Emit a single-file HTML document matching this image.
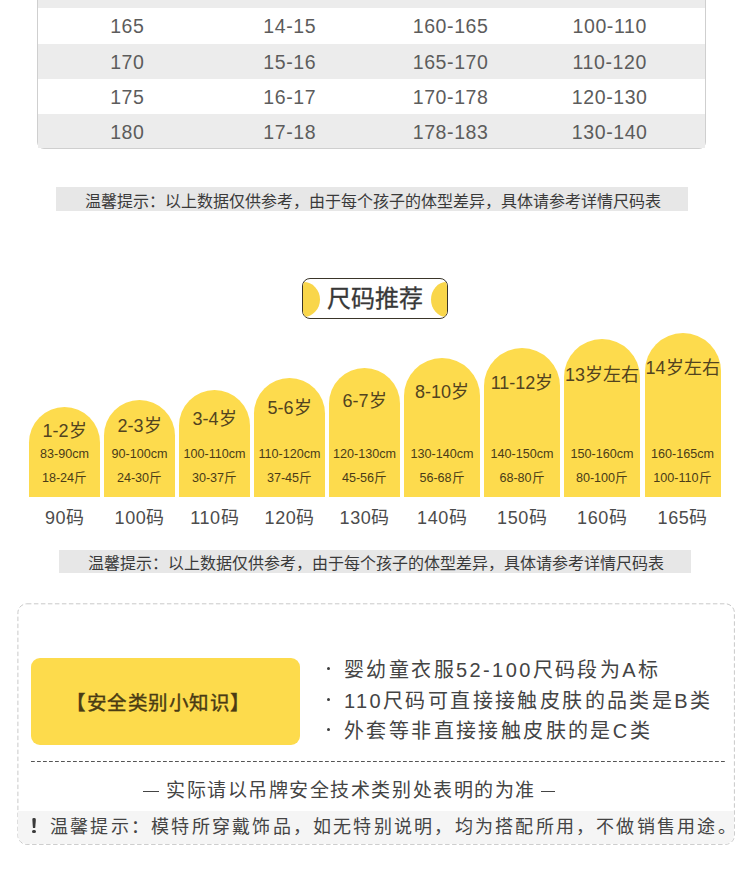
<!DOCTYPE html>
<html lang="zh-CN">
<head>
<meta charset="utf-8">
<style>
*{margin:0;padding:0;box-sizing:border-box;}
html,body{width:750px;height:883px;overflow:hidden;background:#fff;}
body{position:relative;font-family:"Liberation Sans",sans-serif;color:#4a4a4a;}
.tblbox{position:absolute;left:37px;top:-20px;width:669px;height:168.5px;border:1px solid #cfcfcf;border-radius:0 0 7px 7px;overflow:hidden;background:#fff;}
.grow{position:absolute;left:38px;width:667px;background:#ececec;}
.cell{position:absolute;width:160px;height:35px;line-height:36.4px;font-size:19.5px;letter-spacing:0.6px;text-indent:0.6px;color:#5c5c5c;text-align:center;white-space:nowrap;}
.tip{position:absolute;background:#e7e7e7;width:632px;font-size:16px;color:#3a3a3a;white-space:nowrap;}
.badge{position:absolute;left:302px;top:278px;width:146px;height:41px;border:1.3px solid #3a3529;border-radius:8px;overflow:hidden;background:#fff;}
.badge .l,.badge .r{position:absolute;top:2.5px;height:35px;border-radius:50%;background:#f9d64a;}
.badge .l{left:-16px;width:33px;}
.badge .r{right:-15px;width:31px;}
.badge .t{position:absolute;left:0;top:1px;width:100%;height:38.4px;line-height:38.4px;text-align:center;font-size:24px;color:#383838;-webkit-text-stroke:0.3px #383838;}
.bar{position:absolute;background:#fddb4d;}
.age{position:absolute;font-size:18px;line-height:22px;height:22px;text-align:center;color:#524320;white-space:nowrap;}
.cm,.kg{position:absolute;font-size:12.6px;line-height:14px;text-align:center;color:#4a3b18;white-space:nowrap;}
.cm{top:447px;}
.kg{top:470.5px;}
.sz{position:absolute;top:507px;font-size:18px;letter-spacing:0.6px;text-indent:0.6px;line-height:22px;color:#4c4c4c;text-align:center;white-space:nowrap;}
.card{position:absolute;left:17px;top:603px;width:718px;height:242px;border:1px dashed #c8c8c8;border-radius:9px;}
.band{position:absolute;left:18px;top:810.5px;width:716px;height:33.5px;background:#f5f5f5;border-radius:0 0 9px 9px;}
.ybox{position:absolute;left:31px;top:658px;width:269px;height:87px;background:#fddb4c;border-radius:9px;font-size:19.5px;letter-spacing:0.5px;-webkit-text-stroke:0.4px #4a3b14;line-height:90px;color:#4a3b14;white-space:nowrap;}
.bl{position:absolute;left:344px;font-size:20px;letter-spacing:2.4px;color:#444;white-space:nowrap;line-height:30px;}
.dot{position:absolute;left:326.9px;width:3px;height:3px;border-radius:50%;background:#3c3c3c;}
.sep{position:absolute;left:31px;top:760px;width:694px;height:0;border-top:1.5px dashed #555;}
.note{position:absolute;top:779.3px;font-size:19px;letter-spacing:1.55px;line-height:24px;color:#444;white-space:nowrap;}
.warn{position:absolute;left:50px;top:814.5px;font-size:18px;letter-spacing:2.23px;line-height:24px;color:#444;white-space:nowrap;}
.excl{position:absolute;left:30.5px;top:812.5px;font-size:20.5px;font-weight:bold;line-height:24px;color:#333;}
</style>
</head>
<body>
<div class="tblbox"></div>
<div class="grow" style="top:0;height:8px;"></div>
<div class="grow" style="top:44px;height:35px;"></div>
<div class="grow" style="top:114px;height:34px;"></div>
<div class="cell" style="left:47px;top:8px;">165</div>
<div class="cell" style="left:209.39999999999998px;top:8px;">14-15</div>
<div class="cell" style="left:370.3px;top:8px;">160-165</div>
<div class="cell" style="left:529.4px;top:8px;">100-110</div>
<div class="cell" style="left:47px;top:44px;">170</div>
<div class="cell" style="left:209.39999999999998px;top:44px;">15-16</div>
<div class="cell" style="left:370.3px;top:44px;">165-170</div>
<div class="cell" style="left:529.4px;top:44px;">110-120</div>
<div class="cell" style="left:47px;top:79px;">175</div>
<div class="cell" style="left:209.39999999999998px;top:79px;">16-17</div>
<div class="cell" style="left:370.3px;top:79px;">170-178</div>
<div class="cell" style="left:529.4px;top:79px;">120-130</div>
<div class="cell" style="left:47px;top:114px;">180</div>
<div class="cell" style="left:209.39999999999998px;top:114px;">17-18</div>
<div class="cell" style="left:370.3px;top:114px;">178-183</div>
<div class="cell" style="left:529.4px;top:114px;">130-140</div>
<div class="tip" style="left:56px;top:187px;height:24px;line-height:29px;padding-left:29px;">温馨提示：以上数据仅供参考，由于每个孩子的体型差异，具体请参考详情尺码表</div>
<div class="badge"><div class="l"></div><div class="r"></div><div class="t">尺码推荐</div></div>
<div class="bar" style="left:29px;top:407.0px;width:71px;height:90.3px;border-radius:35.5px 35.5px 0 0 / 35.5px 35.5px 0 0;"></div>
<div class="age" style="left:29px;width:71px;top:419.6px;">1-2岁</div>
<div class="cm" style="left:29px;width:71px;">83-90cm</div>
<div class="kg" style="left:29px;width:71px;">18-24斤</div>
<div class="bar" style="left:104px;top:400.3px;width:71px;height:97.0px;border-radius:35.5px 35.5px 0 0 / 35.5px 35.5px 0 0;"></div>
<div class="age" style="left:104px;width:71px;top:414.9px;">2-3岁</div>
<div class="cm" style="left:104px;width:71px;">90-100cm</div>
<div class="kg" style="left:104px;width:71px;">24-30斤</div>
<div class="bar" style="left:179px;top:389.6px;width:71px;height:107.7px;border-radius:35.5px 35.5px 0 0 / 35.5px 35.5px 0 0;"></div>
<div class="age" style="left:179px;width:71px;top:407.9px;">3-4岁</div>
<div class="cm" style="left:179px;width:71px;">100-110cm</div>
<div class="kg" style="left:179px;width:71px;">30-37斤</div>
<div class="bar" style="left:254px;top:377.7px;width:71px;height:119.6px;border-radius:35.5px 35.5px 0 0 / 35.5px 35.5px 0 0;"></div>
<div class="age" style="left:254px;width:71px;top:397.1px;">5-6岁</div>
<div class="cm" style="left:254px;width:71px;">110-120cm</div>
<div class="kg" style="left:254px;width:71px;">37-45斤</div>
<div class="bar" style="left:329px;top:368.1px;width:71px;height:129.2px;border-radius:35.5px 35.5px 0 0 / 35.5px 35.5px 0 0;"></div>
<div class="age" style="left:329px;width:71px;top:390.0px;">6-7岁</div>
<div class="cm" style="left:329px;width:71px;">120-130cm</div>
<div class="kg" style="left:329px;width:71px;">45-56斤</div>
<div class="bar" style="left:404px;top:358.1px;width:76px;height:139.2px;border-radius:38.0px 38.0px 0 0 / 38.0px 38.0px 0 0;"></div>
<div class="age" style="left:404px;width:76px;top:381.3px;">8-10岁</div>
<div class="cm" style="left:404px;width:76px;">130-140cm</div>
<div class="kg" style="left:404px;width:76px;">56-68斤</div>
<div class="bar" style="left:484px;top:348.1px;width:76px;height:149.2px;border-radius:38.0px 38.0px 0 0 / 38.0px 38.0px 0 0;"></div>
<div class="age" style="left:484px;width:76px;top:372.1px;">11-12岁</div>
<div class="cm" style="left:484px;width:76px;">140-150cm</div>
<div class="kg" style="left:484px;width:76px;">68-80斤</div>
<div class="bar" style="left:564px;top:338.6px;width:76px;height:158.7px;border-radius:38.0px 38.0px 0 0 / 38.0px 38.0px 0 0;"></div>
<div class="age" style="left:564px;width:76px;top:363.7px;">13岁左右</div>
<div class="cm" style="left:564px;width:76px;">150-160cm</div>
<div class="kg" style="left:564px;width:76px;">80-100斤</div>
<div class="bar" style="left:644.5px;top:332.9px;width:76.0px;height:164.4px;border-radius:38.0px 38.0px 0 0 / 38.0px 38.0px 0 0;"></div>
<div class="age" style="left:644.5px;width:76.0px;top:357.3px;">14岁左右</div>
<div class="cm" style="left:644.5px;width:76.0px;">160-165cm</div>
<div class="kg" style="left:644.5px;width:76.0px;">100-110斤</div>
<div class="sz" style="left:29px;width:71px;">90码</div>
<div class="sz" style="left:104px;width:71px;">100码</div>
<div class="sz" style="left:179px;width:71px;">110码</div>
<div class="sz" style="left:254px;width:71px;">120码</div>
<div class="sz" style="left:329px;width:71px;">130码</div>
<div class="sz" style="left:404px;width:76px;">140码</div>
<div class="sz" style="left:484px;width:76px;">150码</div>
<div class="sz" style="left:564px;width:76px;">160码</div>
<div class="sz" style="left:644.5px;width:76.0px;">165码</div>
<div class="tip" style="left:59px;top:550px;height:23px;line-height:28px;padding-left:29px;">温馨提示：以上数据仅供参考，由于每个孩子的体型差异，具体请参考详情尺码表</div>
<svg class="svgc" width="750" height="883" style="position:absolute;left:0;top:0;"><rect x="17.9" y="603.8" width="716.5" height="240.6" rx="9" ry="9" fill="none" stroke="#c9c9c9" stroke-width="1" stroke-dasharray="4.5 2.5"/></svg>
<div class="band"></div>
<div class="ybox"><span style="position:absolute;left:35px;top:0;">【安全类别小知识】</span></div>
<div class="dot" style="top:667px;"></div><div class="dot" style="top:698.1px;"></div><div class="dot" style="top:728px;"></div>
<div class="bl" style="top:655px;">婴幼童衣服52-100尺码段为A标</div>
<div class="bl" style="top:686px;">110尺码可直接接触皮肤的品类是B类</div>
<div class="bl" style="top:716px;">外套等非直接接触皮肤的是C类</div>
<svg width="750" height="883" style="position:absolute;left:0;top:0;"><line x1="31" y1="761.5" x2="725" y2="761.5" stroke="#555" stroke-width="1.2" stroke-dasharray="3.8 2.2"/></svg>
<div style="position:absolute;left:143.3px;top:790.7px;width:16px;height:1.3px;background:#444;"></div><div class="note" style="left:166px;">实际请以吊牌安全技术类别处表明的为准</div><div style="position:absolute;left:540.7px;top:790.7px;width:14.5px;height:1.3px;background:#444;"></div>
<div style="position:absolute;left:32.2px;top:817.8px;width:3.8px;height:10.4px;background:#3a3a3a;border-radius:1.5px 1.5px 1px 1px;clip-path:polygon(0 0,100% 0,80% 100%,20% 100%);"></div><div style="position:absolute;left:32.3px;top:829.6px;width:3.6px;height:3.4px;background:#3a3a3a;border-radius:50%;"></div><div class="warn">温馨提示：模特所穿戴饰品，如无特别说明，均为搭配所用，不做销售用途。</div>
</body>
</html>
